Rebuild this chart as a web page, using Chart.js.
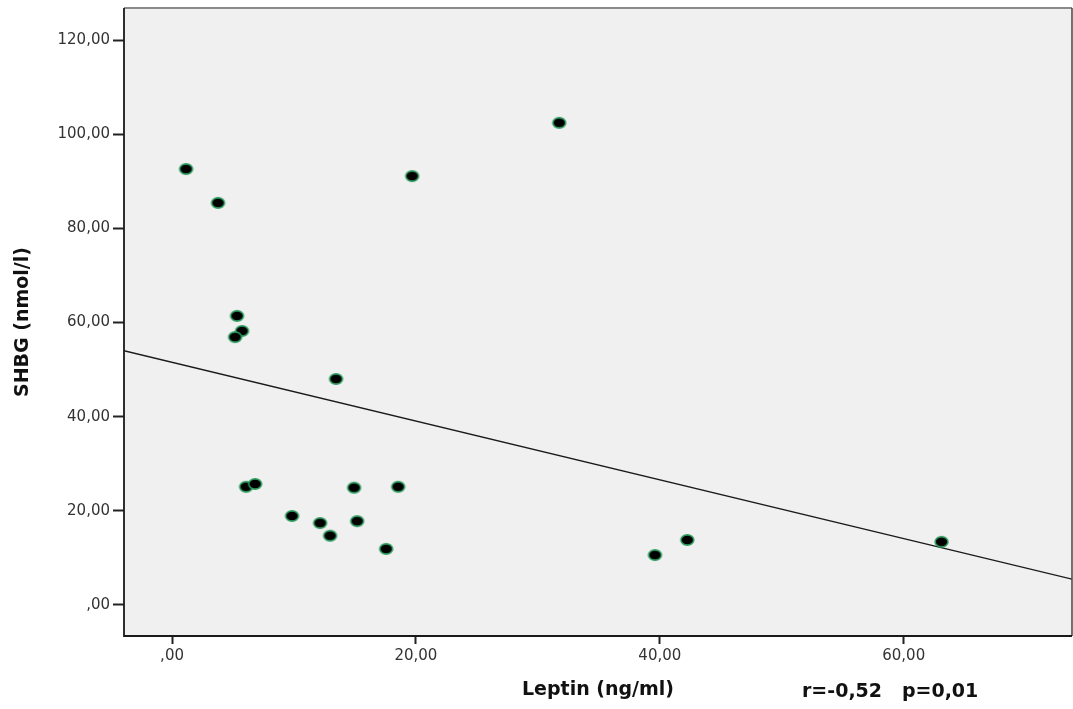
<!DOCTYPE html>
<html>
<head>
<meta charset="utf-8">
<script src="https://cdn.jsdelivr.net/npm/chart.js@4/dist/chart.umd.min.js"></script>
<style>
  html, body { margin: 0; padding: 0; background: #fff; overflow: hidden; }
  #wrap { width: 1073px; height: 709px; position: relative; }
</style>
</head>
<body>
<div id="wrap"><canvas id="scatter"></canvas></div>
<script>
// Leptin (ng/ml) vs SHBG (nmol/l), one point per subject
const leptin = [1.15, 3.77, 5.33, 5.74, 5.17, 13.45, 19.69, 31.75, 6.07, 6.81,
                9.84, 12.14, 12.96, 14.93, 15.18, 18.54, 17.56, 39.6, 42.25, 63.1];
const shbg = [92.6, 85.4, 61.4, 58.2, 56.9, 48.0, 91.1, 102.4, 25.1, 25.7,
              18.9, 17.4, 14.7, 24.9, 17.8, 25.1, 11.9, 10.6, 13.8, 13.4];

const xTicks = [0, 20, 40, 60];
const yTicks = [0, 20, 40, 60, 80, 100, 120];
const xRange = [-3.94, 73.8];
const yRange = [-6.6, 126.8];
const statsText = 'r=-0,52   p=0,01';

// SPSS-style number: 20,00 / ,00
function fmt(v) {
  const s = v.toFixed(2).replace('.', ',');
  return s.startsWith('0,') ? s.slice(1) : s;
}

// least squares fit line
const n = leptin.length;
const mx = leptin.reduce((a, b) => a + b, 0) / n;
const my = shbg.reduce((a, b) => a + b, 0) / n;
let sxy = 0, sxx = 0;
for (let i = 0; i < n; i++) {
  sxy += (leptin[i] - mx) * (shbg[i] - my);
  sxx += (leptin[i] - mx) ** 2;
}
const slope = sxy / sxx;
const intercept = my - slope * mx;
const fitLine = xRange.map(x => ({ x: x, y: intercept + slope * x }));

// slightly wide dot marker
const dot = document.createElement('canvas');
dot.width = 17; dot.height = 14;
(function () {
  const c = dot.getContext('2d');
  c.beginPath();
  c.ellipse(8.5, 7, 6.4, 5.1, 0, 0, Math.PI * 2);
  c.fillStyle = '#000';
  c.fill();
  c.lineWidth = 1.6;
  c.strokeStyle = '#2a9a5c';
  c.stroke();
})();

const plotFrame = {
  id: 'plotFrame',
  beforeDatasetsDraw(chart) {
    const { ctx, chartArea: a } = chart;
    ctx.save();
    ctx.fillStyle = '#f0f0f0';
    ctx.fillRect(a.left, a.top, a.right - a.left, a.bottom - a.top);
    ctx.restore();
  },
  afterDraw(chart) {
    const { ctx, chartArea: a } = chart;
    ctx.save();
    ctx.strokeStyle = '#8a8a8a';
    ctx.lineWidth = 2;
    ctx.beginPath();
    ctx.moveTo(a.left, a.top);
    ctx.lineTo(a.right, a.top);
    ctx.stroke();
    ctx.strokeStyle = '#444';
    ctx.lineWidth = 1.5;
    ctx.beginPath();
    ctx.moveTo(a.right, a.top);
    ctx.lineTo(a.right, a.bottom);
    ctx.stroke();
    ctx.strokeStyle = '#1a1a1a';
    ctx.lineWidth = 1.8;
    ctx.beginPath();
    ctx.moveTo(a.left, a.top);
    ctx.lineTo(a.left, a.bottom);
    ctx.lineTo(a.right, a.bottom);
    ctx.stroke();

    ctx.fillStyle = '#111';
    ctx.font = 'bold 19px "DejaVu Sans"';
    ctx.textAlign = 'left';
    ctx.textBaseline = 'middle';
    ctx.fillText(statsText, 802, 692);
    ctx.restore();
  }
};

const tickFont = { family: 'DejaVu Sans', size: 15 };
const titleFont = { family: 'DejaVu Sans', size: 19, weight: 'bold' };

new Chart(document.getElementById('scatter'), {
  type: 'scatter',
  data: {
    datasets: [
      {
        data: leptin.map((x, i) => ({ x: x, y: shbg[i] })),
        pointStyle: dot,
        pointRadius: 7,
        pointHoverRadius: 7
      },
      {
        type: 'line',
        data: fitLine,
        borderColor: '#1a1a1a',
        borderWidth: 1.3,
        pointRadius: 0,
        fill: false
      }
    ]
  },
  options: {
    responsive: true,
    maintainAspectRatio: false,
    animation: false,
    layout: { autoPadding: false, padding: { top: 8, right: 1, left: 0, bottom: 0 } },
    plugins: {
      legend: { display: false },
      tooltip: { enabled: false }
    },
    scales: {
      x: {
        type: 'linear',
        min: xRange[0],
        max: xRange[1],
        afterBuildTicks: (s) => { s.ticks = xTicks.map(v => ({ value: v })); },
        afterFit: (s) => { s.height = 73; s.paddingLeft = 0; s.paddingRight = 0; },
        grid: { drawOnChartArea: false, tickLength: 8, tickWidth: 2, tickColor: '#222' },
        border: { display: false },
        ticks: { color: '#333', font: tickFont, padding: 3, maxRotation: 0, callback: (v) => fmt(v) },
        title: { display: true, text: 'Leptin (ng/ml)', color: '#111', font: titleFont, padding: { bottom: 8 } }
      },
      y: {
        type: 'linear',
        min: yRange[0],
        max: yRange[1],
        afterBuildTicks: (s) => { s.ticks = yTicks.map(v => ({ value: v })); },
        afterFit: (s) => { s.width = 124; s.paddingTop = 0; s.paddingBottom = 0; },
        grid: { drawOnChartArea: false, tickLength: 11, tickWidth: 2, tickColor: '#222' },
        border: { display: false },
        ticks: { color: '#333', font: tickFont, padding: 3, callback: (v) => fmt(v) },
        title: { display: true, text: 'SHBG (nmol/l)', color: '#111', font: titleFont, padding: { top: 12 } }
      }
    }
  },
  plugins: [plotFrame]
});
</script>
</body>
</html>
